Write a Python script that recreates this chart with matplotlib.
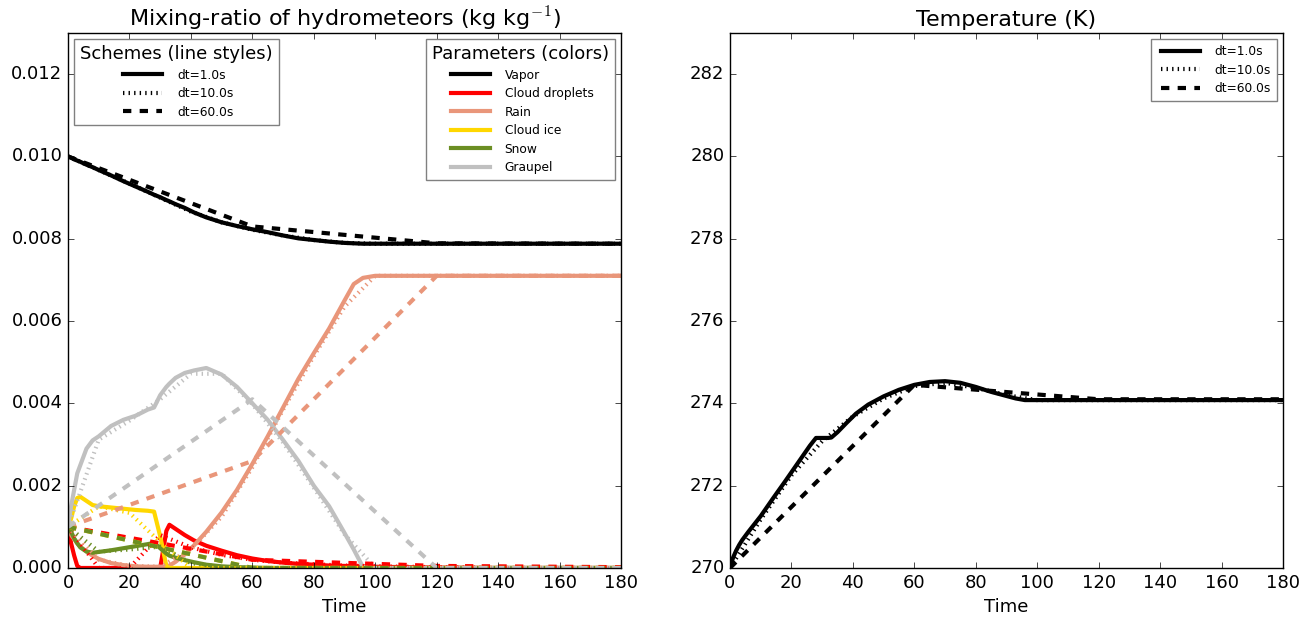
import matplotlib
matplotlib.use("Agg")
import matplotlib.pyplot as plt
from matplotlib.lines import Line2D

plt.style.use('classic')

# ---------------- data ----------------
params = ["Vapor", "Cloud droplets", "Rain", "Cloud ice", "Snow", "Graupel"]
param_colors = ["black", "red", "darksalmon", "gold", "olivedrab", "silver"]
schemes = ["dt=1.0s", "dt=10.0s", "dt=60.0s"]
scheme_styles = ["-", ":", "--"]

# dt = 1 s (read at selected times)
t1 = [0, 1, 2, 3, 4, 6, 8, 10, 14, 18, 22, 26, 28, 30, 32, 33, 35, 38, 41, 45,
      50, 55, 60, 65, 70, 75, 80, 85, 90, 93, 96, 100, 120, 140, 160, 180]
vapor1 = [0.01000, 0.00997, 0.00993, 0.00990, 0.00987, 0.00980, 0.00974, 0.00967,
          0.00954, 0.00940, 0.00927, 0.00914, 0.00907, 0.00901, 0.00894, 0.00891,
          0.00884, 0.00875, 0.00864, 0.00852, 0.00840, 0.00831, 0.00823, 0.00816,
          0.00808, 0.00801, 0.00797, 0.00793, 0.00790, 0.00789, 0.00788, 0.00788,
          0.00788, 0.00788, 0.00788, 0.00788]
drops1 = [0.00100, 0.00060, 0.00030, 0.00005, 0.0, 0.0, 0.0, 0.0, 0.0, 0.0, 0.0,
          0.0, 0.0, 0.0, 0.00090, 0.00105, 0.00095, 0.00080, 0.00067, 0.00054,
          0.00042, 0.00031, 0.00023, 0.00017, 0.00013, 0.00010, 0.00008, 0.00006,
          0.00005, 0.00004, 0.00004, 0.00003, 0.00001, 0.0, 0.0, 0.0]
rain1 = [0.00100, 0.00080, 0.00070, 0.00060, 0.00052, 0.00040, 0.00030, 0.00022,
         0.00012, 0.00007, 0.00004, 0.00003, 0.00003, 0.00003, 0.00004, 0.00006,
         0.00015, 0.00033, 0.00055, 0.00088, 0.00135, 0.00190, 0.00253, 0.00320,
         0.00390, 0.00460, 0.00522, 0.00582, 0.00650, 0.00690, 0.00705, 0.00710,
         0.00710, 0.00710, 0.00710, 0.00710]
ice1 = [0.00100, 0.00120, 0.00150, 0.00170, 0.00173, 0.00163, 0.00153, 0.00150,
        0.00147, 0.00144, 0.00141, 0.00139, 0.00137, 0.00077, 0.00005, 0.0, 0.0,
        0.0, 0.0, 0.0, 0.0, 0.0, 0.0, 0.0, 0.0, 0.0, 0.0, 0.0, 0.0, 0.0, 0.0, 0.0,
        0.0, 0.0, 0.0, 0.0]
snow1 = [0.00100, 0.00088, 0.00072, 0.00060, 0.00050, 0.00040, 0.00037, 0.00039,
         0.00043, 0.00048, 0.00053, 0.00058, 0.00061, 0.00048, 0.00035, 0.00030,
         0.00025, 0.00019, 0.00014, 0.00008, 0.00004, 0.00002, 0.00001, 0.0, 0.0,
         0.0, 0.0, 0.0, 0.0, 0.0, 0.0, 0.0, 0.0, 0.0, 0.0, 0.0]
graupel1 = [0.00100, 0.00150, 0.00190, 0.00230, 0.00250, 0.00290, 0.00310, 0.00320,
            0.00345, 0.00360, 0.00370, 0.00385, 0.00390, 0.00420, 0.00440, 0.00448,
            0.00462, 0.00474, 0.00480, 0.00486, 0.00470, 0.00440, 0.00400, 0.00360,
            0.00311, 0.00260, 0.00200, 0.00150, 0.00085, 0.00045, 0.00002, 0.0,
            0.0, 0.0, 0.0, 0.0]
temp1 = [270.00, 270.25, 270.42, 270.56, 270.68, 270.88, 271.07, 271.26, 271.69,
         272.11, 272.54, 272.97, 273.16, 273.16, 273.16, 273.17, 273.30, 273.53,
         273.75, 273.97, 274.17, 274.33, 274.45, 274.52, 274.54, 274.50, 274.40,
         274.28, 274.18, 274.12, 274.08, 274.08, 274.08, 274.08, 274.08, 274.08]

# dt = 10 s
t10 = [0, 10, 20, 30, 40, 50, 60, 70, 80, 90, 100, 110, 120, 130, 140, 150, 160, 170, 180]
vapor10 = [0.01000, 0.00967, 0.00934, 0.00900, 0.00866, 0.00840, 0.00822, 0.00808,
           0.00797, 0.00790, 0.00788, 0.00788, 0.00788, 0.00788, 0.00788, 0.00788,
           0.00788, 0.00788, 0.00788]
drops10 = [0.00100, 0.0, 0.0, 0.00080, 0.00050, 0.00032, 0.00020, 0.00013, 0.00009,
           0.00006, 0.00004, 0.00003, 0.00002, 0.00001, 0.0, 0.0, 0.0, 0.0, 0.0]
rain10 = [0.00100, 0.00020, 0.00005, 0.00003, 0.00045, 0.00125, 0.00245, 0.00385,
          0.00515, 0.00635, 0.00710, 0.00710, 0.00710, 0.00710, 0.00710, 0.00710,
          0.00710, 0.00710, 0.00710]
ice10 = [0.00100, 0.00150, 0.00134, 0.00063, 0.0, 0.0, 0.0, 0.0, 0.0, 0.0, 0.0,
         0.0, 0.0, 0.0, 0.0, 0.0, 0.0, 0.0, 0.0]
snow10 = [0.00100, 0.00040, 0.00045, 0.00052, 0.00012, 0.00002, 0.0, 0.0, 0.0, 0.0,
          0.0, 0.0, 0.0, 0.0, 0.0, 0.0, 0.0, 0.0, 0.0]
graupel10 = [0.00100, 0.00312, 0.00358, 0.00410, 0.00472, 0.00472, 0.00398, 0.00305,
             0.00195, 0.00082, 0.0, 0.0, 0.0, 0.0, 0.0, 0.0, 0.0, 0.0, 0.0]
temp10 = [270.00, 271.18, 272.25, 273.08, 273.68, 274.12, 274.42, 274.50, 274.38,
          274.20, 274.08, 274.08, 274.08, 274.08, 274.08, 274.08, 274.08, 274.08, 274.08]

# dt = 60 s
t60 = [0, 60, 120, 180]
vapor60 = [0.01000, 0.00830, 0.00789, 0.00788]
drops60 = [0.00100, 0.00020, 0.00005, 0.00002]
rain60 = [0.00100, 0.00260, 0.00710, 0.00710]
ice60 = [0.00100, 0.0, 0.0, 0.0]
snow60 = [0.00100, 0.0, 0.0, 0.0]
graupel60 = [0.00100, 0.00410, 0.0, 0.0]
temp60 = [270.00, 274.45, 274.10, 274.10]

xticks = [0, 20, 40, 60, 80, 100, 120, 140, 160, 180]
yticks_left = [0.000, 0.002, 0.004, 0.006, 0.008, 0.010, 0.012]
yticks_right = [270, 272, 274, 276, 278, 280, 282]

runs = [
    (t1, [vapor1, drops1, rain1, ice1, snow1, graupel1], temp1),
    (t10, [vapor10, drops10, rain10, ice10, snow10, graupel10], temp10),
    (t60, [vapor60, drops60, rain60, ice60, snow60, graupel60], temp60),
]

# ---------------- figure ----------------
fig = plt.figure(figsize=(13.11, 6.23), dpi=100, facecolor='white')
ax1 = fig.add_axes([0.0519, 0.0883, 0.4218, 0.8587])
ax2 = fig.add_axes([0.5568, 0.0883, 0.4218, 0.8587])

LW = 3
for (tt, series, temp), ls in zip(runs, scheme_styles):
    for vals, col in zip(series, param_colors):
        ax1.plot(tt, vals, color=col, linestyle=ls, linewidth=LW)
    ax2.plot(tt, temp, color='black', linestyle=ls, linewidth=LW)

for ax in (ax1, ax2):
    ax.set_facecolor('white')
    ax.set_xlim(0, 180)
    ax.set_xticks(xticks)
    ax.set_xlabel("Time", fontsize=13)
    ax.tick_params(labelsize=13, direction='in', length=4.5)

ax1.set_ylim(0, 0.013)
ax1.set_yticks(yticks_left)
ax1.set_yticklabels(["%.3f" % v for v in yticks_left])
ax1.set_title("Mixing-ratio of hydrometeors (kg kg$^{-1}$)", fontsize=16)

ax2.set_ylim(270, 283)
ax2.set_yticks(yticks_right)
ax2.set_yticklabels([str(v) for v in yticks_right])
ax2.set_title("Temperature (K)", fontsize=16)

leg_kw = dict(fontsize=8.8, handlelength=3.8, numpoints=2, fancybox=False,
              borderpad=0.5, labelspacing=0.45, handletextpad=0.9)

scheme_handles = [Line2D([], [], color='black', linestyle=ls, linewidth=LW)
                  for ls in scheme_styles]
param_handles = [Line2D([], [], color=c, linestyle='-', linewidth=LW)
                 for c in param_colors]

leg1 = ax1.legend(scheme_handles, schemes, loc='upper left',
                  title="Schemes (line styles)", title_fontsize=13, **leg_kw)
leg1.get_frame().set_edgecolor('0.5')
ax1.add_artist(leg1)
leg2 = ax1.legend(param_handles, params, loc='upper right',
                  title="Parameters (colors)", title_fontsize=13, **leg_kw)
leg2.get_frame().set_edgecolor('0.5')

leg3 = ax2.legend(scheme_handles, schemes, loc='upper right', **leg_kw)
leg3.get_frame().set_edgecolor('0.5')

fig.savefig("out.png", dpi=100, facecolor='white')
